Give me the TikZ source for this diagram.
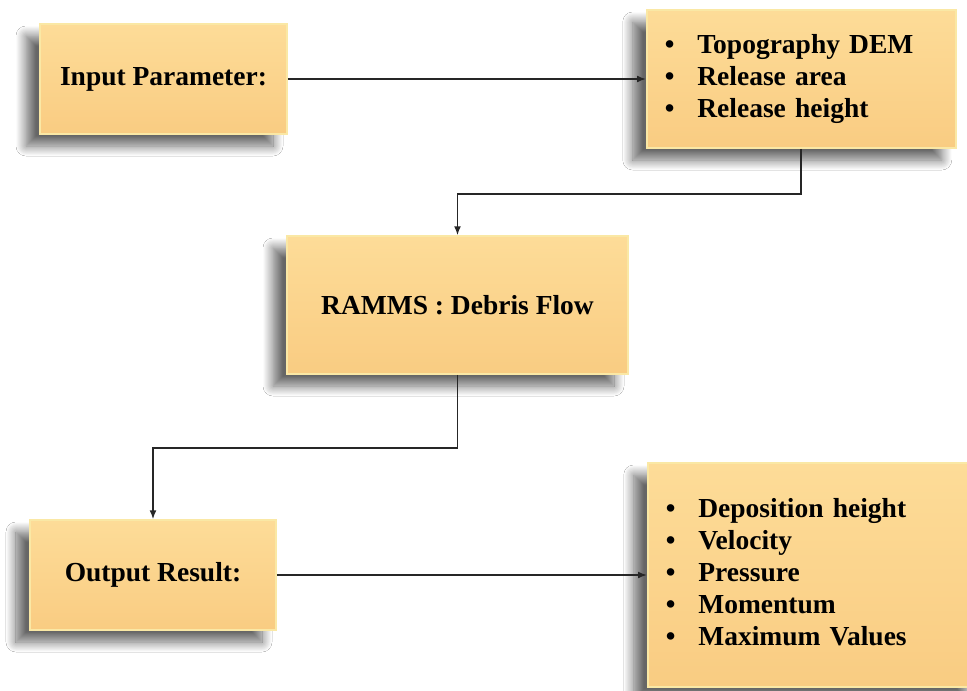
\documentclass[tikz,border=0pt]{standalone}
\usepackage{fontspec}
\setmainfont{Liberation Serif}
\usetikzlibrary{arrows.meta,shadows.blur}
\definecolor{boxtop}{RGB}{253,220,152}
\definecolor{boxbot}{RGB}{249,204,130}
\definecolor{boxrim}{RGB}{250,232,165}
\tikzset{
  box/.style={rectangle,top color=boxtop,bottom color=boxbot,draw=boxrim,line width=1.5pt,inner sep=0pt,
    font=\fontsize{27.5}{32}\selectfont\bfseries,
    blur shadow={shadow xshift=-14pt,shadow yshift=-12pt,shadow blur radius=10pt,shadow blur steps=14,shadow opacity=60}},
  listbox/.style={box,anchor=west,inner xsep=18pt,align=left},
  flow/.style={line width=1.6pt,draw=black!85,-{Latex[length=9pt,width=7pt]}}
}
\begin{document}
\begin{tikzpicture}[x=1pt,y=-1pt]
\useasboundingbox[fill=white](0,0)rectangle(967,691);
% boxes
\node[box,minimum width=247pt,minimum height=110pt](inp)at(163.5,79){Input Parameter:};
\node[listbox,minimum width=309pt,minimum height=138pt,text width=273pt](topo)at(646,79){\begin{tabular}{@{}l@{\hspace{23pt}}l@{}}\textbullet&Topography DEM\\\textbullet&Release area\\\textbullet&Release height\end{tabular}};
\node[box,minimum width=341pt,minimum height=138pt](ramms)at(457.5,305){RAMMS : Debris Flow};
\node[box,minimum width=246pt,minimum height=110pt](outp)at(153,575){Output Result:};
\node[listbox,minimum width=333pt,minimum height=224pt,text width=297pt](res)at(647,575){\begin{tabular}{@{}l@{\hspace{23pt}}l@{}}\textbullet&Deposition height\\\textbullet&Velocity\\\textbullet&Pressure\\\textbullet&Momentum\\\textbullet&Maximum Values\end{tabular}};
% connectors
\draw[flow](inp)--(topo);
\draw[flow](topo.south)--++(0,45)-|(ramms.north);
\draw[flow](ramms.south)--++(0,73)-|(outp.north);
\draw[flow](outp)--(res);
\end{tikzpicture}
\end{document}
